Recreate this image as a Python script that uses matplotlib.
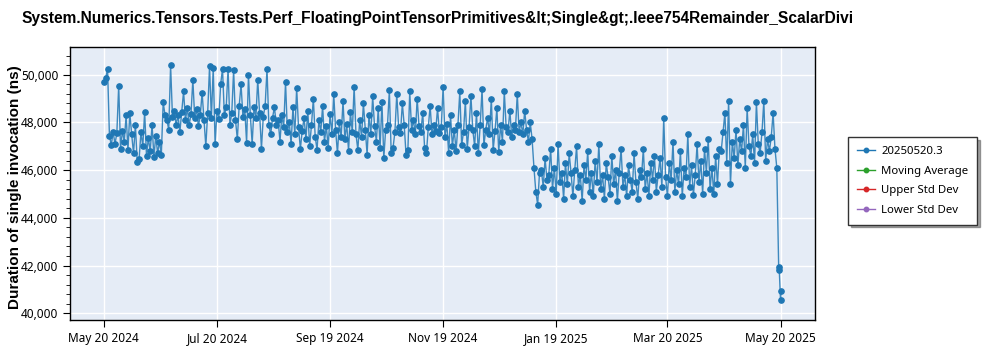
import matplotlib
matplotlib.use("Agg")
import matplotlib.pyplot as plt
import matplotlib.dates as mdates
from matplotlib.lines import Line2D
from matplotlib.ticker import AutoMinorLocator, FuncFormatter
import pandas as pd

plt.rcParams['font.family'] = ['Noto Sans', 'DejaVu Sans']

title = "System.Numerics.Tensors.Tests.Perf_FloatingPointTensorPrimitives&lt;Single&gt;.Ieee754Remainder_ScalarDivi"
ylabel = "Duration of single invocation (ns)"
series_name = "20250520.3"
legend_names = ["Moving Average", "Upper Std Dev", "Lower Std Dev"]

# one run per day, 2024-05-20 .. 2025-05-17
start_date = "2024-05-20"
daily_values = [
    49700, 49850, 50250, 47450, 47050, 47600, 47100, 47550, 49550, 46900,
    47650, 47200, 48300, 46850, 48400, 47500, 46700, 47900, 46350, 46450,
    47600, 47000, 48450, 46600, 47350, 46800, 47900, 46550, 47450, 46700,
    47200, 46650, 48850, 48300, 48100, 47700, 50400, 48250, 48500, 47900,
    48300, 47600, 48450, 49300, 48100, 48600, 47900, 48350, 49800, 48200,
    48550, 47850, 48300, 49250, 48100, 47000, 48400, 50350, 48200, 50300,
    47100, 48500, 48150, 49600, 50250, 48300, 48650, 50250, 47900, 48400,
    50200, 48100, 47300, 48700, 49600, 48250, 48550, 47150, 50000, 48300,
    47100, 48650, 48200, 49800, 48400, 46900, 48250, 48700, 50250, 47900,
    47500, 48200, 48650, 47900, 48100, 47200, 48300, 47800, 49700, 47600,
    48000, 47100, 48650, 47500, 49450, 47800, 46900, 47650, 48200, 47300,
    48500, 47000, 47900, 49000, 47400, 46850, 48100, 47600, 48700, 47200,
    47850, 46950, 48350, 47500, 49200, 47700, 46700, 48000, 47400, 48900,
    47300, 47950, 46800, 48450, 47600, 49500, 47500, 46850, 48100, 47400,
    48800, 47700, 46650, 48300, 47500, 49100, 47850, 47200, 48600, 46950,
    48850, 46500, 47700, 47900, 49350, 46700, 46950, 47600, 49200, 47800,
    47550, 48800, 47900, 46650, 46850, 49300, 47700, 48100, 47500, 49000,
    47850, 47600, 48400, 46950, 46700, 47800, 48700, 47500, 47900, 47650,
    48600, 47550, 47800, 49500, 47400, 47950, 46700, 48300, 47000, 47700,
    46800, 47900, 49300, 47050, 47600, 48900, 46900, 47800, 49100, 47700,
    47000, 48400, 46700, 47900, 49400, 47050, 47700, 48200, 47500, 49000,
    46850, 47650, 48600, 46750, 47900, 47200, 49300, 47800, 47600, 48500,
    47400, 47900, 47700, 49200, 47600, 48000, 47500, 48500, 47700, 47200,
    48000, 47300, 46100, 45100, 44550, 45900, 46000, 45300, 46500, 45600,
    45800, 46900, 45200, 46100, 45000, 47100, 45500, 45900, 44800, 46300,
    45400, 46700, 45900, 44900, 46000, 47000, 45300, 45800, 44700, 46200,
    45600, 46800, 45100, 45900, 44900, 46400, 45500, 47100, 45200, 45800,
    44800, 46300, 45700, 45000, 46600, 45400, 46000, 44700, 45900, 46900,
    45300, 45800, 44900, 46200, 45600, 45100, 46700, 45500, 44800, 46000,
    45700, 46900, 45200, 45900, 44900, 46300, 45600, 46600, 45100, 45800,
    46500, 45300, 48200, 45700, 44900, 46300, 45600, 47200, 45100, 46000,
    45400, 46800, 44900, 46100, 45700, 47500, 45300, 46200, 44950, 45800,
    47100, 45500, 46400, 45000, 46900, 45900, 47300, 45200, 46100, 45000,
    46600, 45400, 46900, 46800, 47600, 48400, 46300, 48900, 45400, 47200,
    46500, 47700, 46200, 47300, 46800, 47900, 46100, 48600, 47000, 46600,
    47500, 46300, 48850, 47100, 46700, 47600, 48900, 46400, 47300, 46800,
    47400, 48400, 46900,
]

# last few runs, several per day
final_dates = ["2025-05-18 00:00", "2025-05-19 00:00", "2025-05-19 08:00",
               "2025-05-20 00:00", "2025-05-20 08:00"]
final_values = [46100, 41950, 41800, 40550, 40950]

xtick_dates = ["2024-05-20", "2024-07-20", "2024-09-19", "2024-11-19",
               "2025-01-19", "2025-03-20", "2025-05-20"]

dates = list(pd.date_range(start_date, periods=len(daily_values), freq="D")) + \
    list(pd.to_datetime(final_dates))
values = daily_values + final_values

fig = plt.figure(figsize=(10, 3.5), dpi=100)
ax = fig.add_axes([0.07, 0.086, 0.745, 0.78])
ax.set_facecolor("#e5ecf6")

ax.plot(dates, values, color="#1f77b4", lw=1, alpha=0.85, zorder=3)
ax.plot(dates, values, ls="none", marker="o", ms=3.8, color="#1f77b4", zorder=4)

ax.set_ylim(39720, 51170)
ax.set_yticks(range(40000, 50001, 2000))
ax.yaxis.set_minor_locator(AutoMinorLocator(5))
ax.yaxis.set_major_formatter(FuncFormatter(lambda v, p: f"{int(v):,}"))

xt = pd.to_datetime(xtick_dates)
ax.set_xticks(xt)
ax.xaxis.set_major_formatter(mdates.DateFormatter("%b %d %Y"))
ax.margins(x=0.05)

ax.grid(True, color="white", lw=1)
ax.set_axisbelow(True)
for s in ax.spines.values():
    s.set_color("black")
    s.set_linewidth(1)
ax.tick_params(axis="both", which="major", direction="out", length=5, labelsize=8.5, colors="black")
ax.tick_params(axis="y", which="minor", direction="out", length=3)

bold_font = ['Liberation Sans', 'DejaVu Sans']
ax.set_ylabel(ylabel, fontsize=11, fontweight="bold", family=bold_font)
ax.yaxis.set_label_coords(-0.064, 0.487)
fig.text(0.022, 0.948, title, fontsize=11.2, fontweight="bold", family=bold_font,
         va="center", ha="left")

handles = [Line2D([], [], color="#1f77b4", marker="o", ms=3.2, lw=1, label=series_name),
           Line2D([], [], color="#2ca02c", marker="o", ms=3.2, lw=1, label=legend_names[0]),
           Line2D([], [], color="#d62728", marker="o", ms=3.2, lw=1, label=legend_names[1]),
           Line2D([], [], color="#9467bd", marker="o", ms=3.2, lw=1, label=legend_names[2])]
leg = fig.legend(handles=handles, loc="upper left", bbox_to_anchor=(0.848, 0.609),
                 borderaxespad=0, fontsize=8.2, frameon=True, fancybox=False, shadow=True,
                 handlelength=1.6, handletextpad=0.5, borderpad=0.8, labelspacing=0.75)
leg.get_frame().set_edgecolor("#333333")
leg.get_frame().set_linewidth(1)

fig.savefig("out.png", dpi=100)
